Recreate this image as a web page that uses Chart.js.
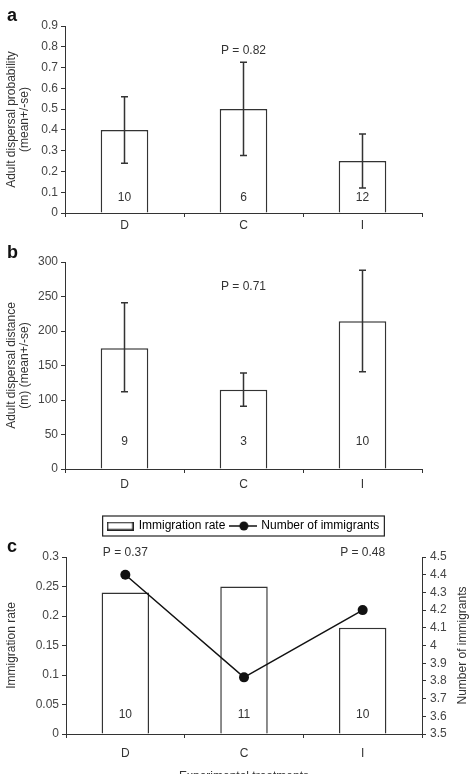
<!DOCTYPE html>
<html>
<head>
<meta charset="utf-8">
<script src="https://cdn.jsdelivr.net/npm/chart.js@4.4.1/dist/chart.umd.min.js"></script>
<style>
  html, body { margin: 0; padding: 0; overflow: hidden; background: #fff; width: 476px; height: 774px; }
  canvas { position: absolute; left: 0; }
  #chartA { top: 0; }
  #chartB { top: 240px; }
  #chartC { top: 496px; }
</style>
</head>
<body>
<canvas id="chartA" width="476" height="240"></canvas>
<canvas id="chartB" width="476" height="256"></canvas>
<canvas id="chartC" width="476" height="290"></canvas>
<script>
const categories = ['D', 'C', 'I'];

// a: adult dispersal probability
const probMean = [0.4, 0.5, 0.25];
const probLow = [0.24, 0.277, 0.12];
const probHigh = [0.56, 0.725, 0.38];
const probN = ['10', '6', '12'];

// b: adult dispersal distance (m)
const distMean = [175, 115, 214];
const distLow = [112, 91, 141];
const distHigh = [241, 139, 288];
const distN = ['9', '3', '10'];

// c: immigration
const immRate = [0.24, 0.25, 0.18];
const immNumber = [4.4, 3.82, 4.2];
const immN = ['10', '11', '10'];

const pTextA = 'P = 0.82';
const pTextB = 'P = 0.71';
const pTextsC = ['P = 0.37', 'P = 0.48'];

const FONT = '"Liberation Sans", Arial, sans-serif';
const INK = '#333';
Chart.defaults.font.family = FONT;
Chart.defaults.font.size = 12;
Chart.defaults.color = INK;

const fmt = v => String(+(+v).toFixed(3));

// error bars, n labels, P values, panel letter, legend frame, right title
const panelExtras = {
  id: 'panelExtras',
  afterDatasetsDraw(chart, args, o) {
    const ctx = chart.ctx;
    const xs = chart.scales.x, ys = chart.scales.y;
    const bars = chart.getDatasetMeta(o.barIndex || 0).data;
    ctx.save();
    ctx.strokeStyle = INK;
    ctx.lineWidth = 1.5;
    if (o.low) {
      o.low.forEach((lo, i) => {
        const px = bars[i].x;
        const y1 = ys.getPixelForValue(lo), y2 = ys.getPixelForValue(o.high[i]);
        ctx.beginPath();
        ctx.moveTo(px, y1); ctx.lineTo(px, y2);
        ctx.moveTo(px - 3.5, y1); ctx.lineTo(px + 3.5, y1);
        ctx.moveTo(px - 3.5, y2); ctx.lineTo(px + 3.5, y2);
        ctx.stroke();
      });
    }
    ctx.fillStyle = INK;
    ctx.font = '12px ' + FONT;
    ctx.textAlign = 'center';
    ctx.textBaseline = 'middle';
    o.nLabels.forEach((t, i) => ctx.fillText(t, bars[i].x, ys.bottom - o.nOffset));
    o.pLabels.forEach(p => ctx.fillText(p.text, xs.getPixelForValue(p.index), ys.getPixelForValue(p.at)));

    if (o.rightTitle) {
      const area = chart.chartArea;
      ctx.save();
      ctx.translate(o.rightTitleX, (area.top + area.bottom) / 2);
      ctx.rotate(-Math.PI / 2);
      ctx.fillText(o.rightTitle, 0, 0);
      ctx.restore();
    }

    ctx.fillStyle = '#111';
    ctx.font = 'bold 18px ' + FONT;
    ctx.textAlign = 'left';
    ctx.textBaseline = 'alphabetic';
    ctx.fillText(o.letter, 7, o.letterY);

    if (o.legendFrame && chart.legend && chart.legend.legendHitBoxes.length) {
      const hb = chart.legend.legendHitBoxes;
      const l = hb[0].left - 5, r = hb[hb.length - 1].left + hb[hb.length - 1].width + 5;
      const t = hb[0].top - 4, b = hb[0].top + hb[0].height + 4;
      ctx.strokeStyle = '#222';
      ctx.lineWidth = 1.2;
      ctx.strokeRect(l, t, r - l, b - t);
    }
    ctx.restore();
  }
};

function xAxis(height, pad, title) {
  return {
    type: 'category',
    offset: true,
    grid: { offset: true, drawOnChartArea: false, drawTicks: true, tickLength: 4, color: INK, lineWidth: 1 },
    border: { color: INK, width: 1 },
    ticks: { padding: pad, color: INK, font: { size: 12 } },
    title: title ? { display: true, text: title, color: INK, font: { size: 12, lineHeight: 1.1 }, padding: { top: 0, bottom: 3 } } : { display: false },
    afterFit: s => { s.height = height; }
  };
}

function yAxis(max, step, titleLines, pos, width, titlePad, min) {
  return {
    position: pos,
    min: min || 0,
    max: max,
    grid: { drawOnChartArea: false, drawTicks: true, tickLength: 4, color: INK, lineWidth: 1 },
    border: { color: INK, width: 1 },
    ticks: { stepSize: step, padding: pos === 'left' ? 3 : 4, color: '#444', font: { size: 12 }, callback: fmt },
    title: titleLines ? { display: true, text: titleLines, color: INK, font: { size: 12, lineHeight: 1.1 }, padding: { top: titlePad, bottom: 0 } } : { display: false },
    afterFit: s => { s.width = width; }
  };
}

function barDataset(values) {
  return {
    type: 'bar',
    data: values,
    backgroundColor: '#fff',
    borderColor: INK,
    borderWidth: 1.5,
    barPercentage: 0.4,
    categoryPercentage: 1,
    xAxisID: 'x',
    yAxisID: 'y',
    order: 1
  };
}

const common = {
  responsive: false,
  animation: false,
  events: [],
  plugins: { legend: { display: false }, tooltip: { enabled: false } }
};

new Chart(document.getElementById('chartA'), {
  type: 'bar',
  data: { labels: categories, datasets: [barDataset(probMean)] },
  options: {
    ...common,
    layout: { padding: { top: 26, right: 54, left: 0, bottom: 0 } },
    scales: {
      x: xAxis(27, 1, null),
      y: yAxis(0.9, 0.1, ['Adult dispersal probability', '(mean+/-se)'], 'left', 65, 5)
    },
    plugins: {
      ...common.plugins,
      panelExtras: { letter: 'a', letterY: 21, low: probLow, high: probHigh, nLabels: probN, nOffset: 15,
        pLabels: [{ text: pTextA, index: 1, at: 0.78 }] }
    }
  },
  plugins: [panelExtras]
});

new Chart(document.getElementById('chartB'), {
  type: 'bar',
  data: { labels: categories, datasets: [barDataset(distMean)] },
  options: {
    ...common,
    layout: { padding: { top: 22, right: 54, left: 0, bottom: 0 } },
    scales: {
      x: xAxis(27, 4, null),
      y: yAxis(300, 50, ['Adult dispersal distance', '(m) (mean+/-se)'], 'left', 65, 5)
    },
    plugins: {
      ...common.plugins,
      panelExtras: { letter: 'b', letterY: 18, low: distLow, high: distHigh, nLabels: distN, nOffset: 27,
        pLabels: [{ text: pTextB, index: 1, at: 264 }] }
    }
  },
  plugins: [panelExtras]
});

// legend symbols
const rectSym = document.createElement('canvas');
rectSym.width = 27; rectSym.height = 9;
(function () {
  const c = rectSym.getContext('2d');
  c.strokeStyle = '#222'; c.lineWidth = 1.5;
  c.strokeRect(0.75, 0.75, 25.5, 7.5);
})();
const lineSym = document.createElement('canvas');
lineSym.width = 28; lineSym.height = 12;
(function () {
  const c = lineSym.getContext('2d');
  c.strokeStyle = '#111'; c.fillStyle = '#111'; c.lineWidth = 1.5;
  c.beginPath(); c.moveTo(0, 6); c.lineTo(28, 6); c.stroke();
  c.beginPath(); c.arc(15, 6, 4.5, 0, Math.PI * 2); c.fill();
})();

new Chart(document.getElementById('chartC'), {
  data: {
    labels: categories,
    datasets: [
      { ...barDataset(immRate), label: 'Immigration rate' },
      {
        type: 'line',
        label: 'Number of immigrants',
        data: immNumber,
        borderColor: '#111',
        backgroundColor: '#111',
        borderWidth: 1.5,
        pointRadius: 5,
        pointBackgroundColor: '#111',
        pointBorderWidth: 0,
        xAxisID: 'x',
        yAxisID: 'y1',
        order: 0
      }
    ]
  },
  options: {
    ...common,
    layout: { padding: { top: 19, right: 0, left: 11, bottom: 0 } },
    scales: {
      x: xAxis(52, 8, 'Experimental treatments'),
      xTop: {
        type: 'category', position: 'top', labels: categories,
        grid: { display: false }, ticks: { display: false }, border: { display: false },
        afterFit: s => { s.height = 15; }
      },
      y: yAxis(0.3, 0.05, 'Immigration rate', 'left', 55, -5.6),
      y1: yAxis(4.5, 0.1, null, 'right', 54, 0, 3.5)
    },
    plugins: {
      tooltip: { enabled: false },
      legend: {
        display: true,
        position: 'top',
        labels: {
          usePointStyle: true,
          pointStyleWidth: 25,
          boxHeight: 12,
          padding: 5,
          color: '#222',
          font: { size: 12 },
          generateLabels: () => [
            { text: 'Immigration rate', pointStyle: rectSym, fillStyle: '#fff', strokeStyle: '#222', lineWidth: 0, hidden: false, datasetIndex: 0 },
            { text: 'Number of immigrants', pointStyle: lineSym, fillStyle: '#111', strokeStyle: '#111', lineWidth: 0, hidden: false, datasetIndex: 1 }
          ]
        }
      },
      panelExtras: { letter: 'c', letterY: 56, nLabels: immN, nOffset: 19, legendFrame: true,
        rightTitle: 'Number of immigrants', rightTitleX: 463,
        pLabels: [{ text: pTextsC[0], index: 0, at: 0.308 }, { text: pTextsC[1], index: 2, at: 0.308 }] }
    }
  },
  plugins: [panelExtras]
});
</script>
</body>
</html>
